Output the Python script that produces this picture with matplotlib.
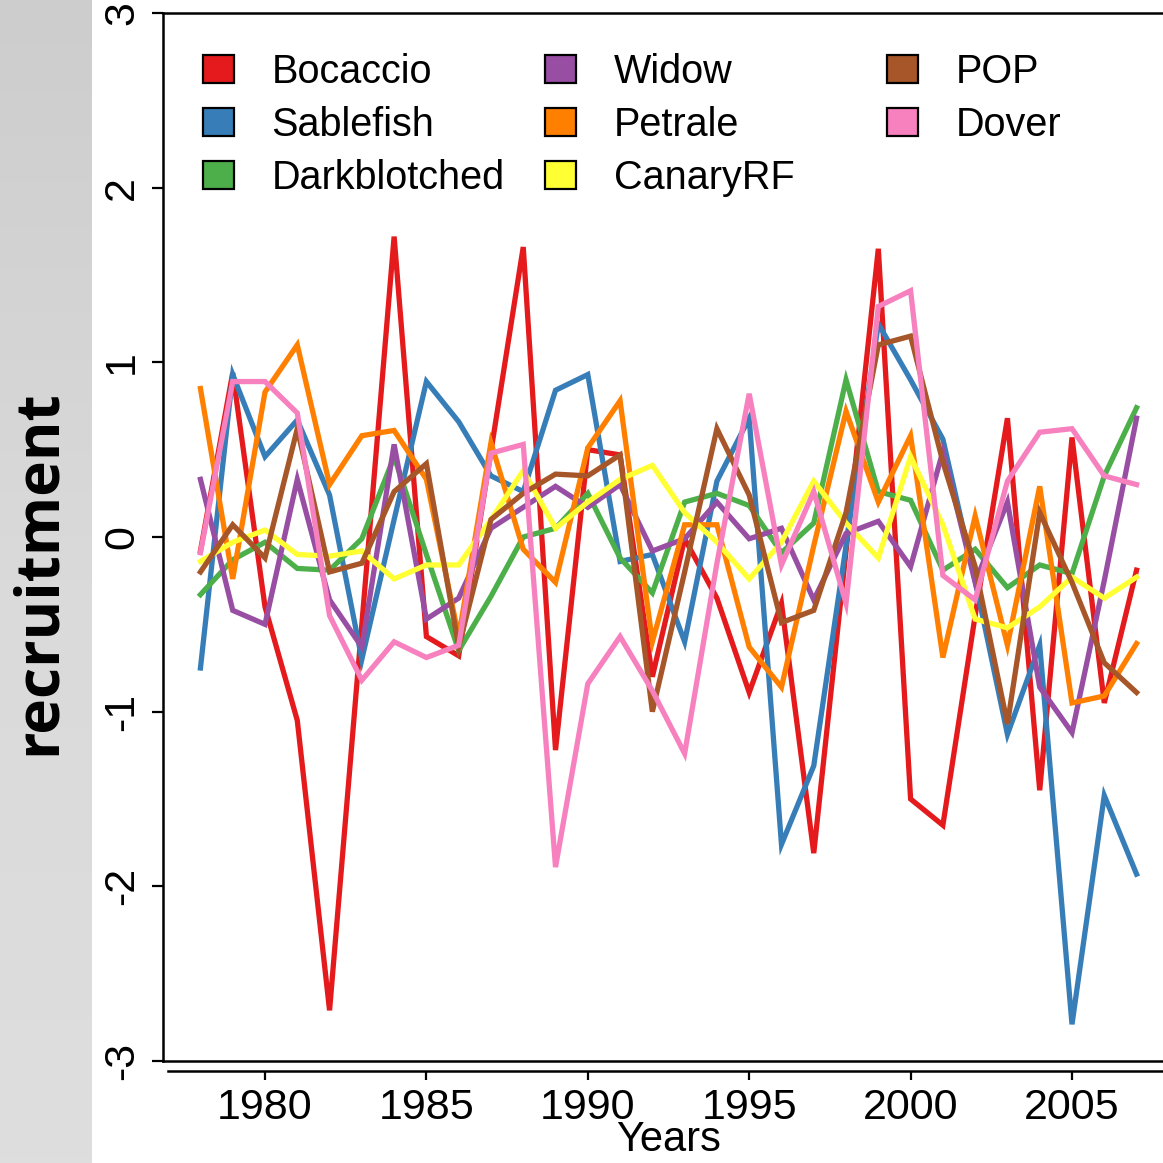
import numpy as np
import matplotlib
matplotlib.use("Agg")
import matplotlib.pyplot as plt
from matplotlib.patches import Patch

plt.rcParams['font.family'] = ['Liberation Sans', 'DejaVu Sans']
plt.rcParams['axes.unicode_minus'] = False

### recruitment deviations, one value per year
years = list(range(1978, 2008))

bocaccio = [-0.08, 0.94, -0.40, -1.05, -2.71, -0.50, 1.72, -0.57, -0.68, 0.49,
            1.66, -1.22, 0.50, 0.47, -0.80, -0.01, -0.35, -0.89, -0.38, -1.81,
            -0.08, 1.65, -1.50, -1.65, -0.45, 0.68, -1.45, 0.57, -0.95, -0.19]
sablefish = [-0.75, 0.93, 0.46, 0.67, 0.24, -0.70, 0.10, 0.89, 0.66, 0.35,
             0.26, 0.84, 0.93, -0.14, -0.10, -0.60, 0.32, 0.68, -1.76, -1.31,
             -0.05, 1.22, 0.90, 0.56, -0.25, -1.13, -0.62, -2.79, -1.48, -1.93]
darkblotched = [-0.33, -0.13, -0.03, -0.18, -0.19, -0.01, 0.46, -0.10, -0.65, -0.34,
                0.00, 0.05, 0.25, -0.12, -0.32, 0.20, 0.25, 0.18, -0.09, 0.08,
                0.90, 0.26, 0.21, -0.19, -0.07, -0.29, -0.16, -0.21, 0.35, 0.74]
widow = [0.33, -0.42, -0.50, 0.33, -0.36, -0.63, 0.53, -0.47, -0.35, 0.05,
         0.17, 0.29, 0.17, 0.30, -0.08, -0.01, 0.20, -0.01, 0.05, -0.36,
         0.02, 0.09, -0.17, 0.49, -0.26, 0.20, -0.86, -1.12, -0.25, 0.68]
petrale = [0.85, -0.24, 0.83, 1.10, 0.30, 0.58, 0.61, 0.33, -0.57, 0.54,
           -0.07, -0.26, 0.51, 0.78, -0.60, 0.07, 0.07, -0.63, -0.86, -0.05,
           0.72, 0.20, 0.58, -0.69, 0.12, -0.62, 0.29, -0.95, -0.91, -0.61]
canary = [-0.14, -0.03, 0.04, -0.10, -0.11, -0.08, -0.24, -0.16, -0.16, 0.10,
          0.38, 0.05, 0.20, 0.33, 0.41, 0.14, -0.03, -0.24, -0.03, 0.32,
          0.08, -0.12, 0.46, 0.07, -0.47, -0.52, -0.40, -0.23, -0.35, -0.23]
pop = [-0.20, 0.07, -0.12, 0.62, -0.20, -0.15, 0.26, 0.42, -0.63, 0.10,
       0.25, 0.36, 0.35, 0.47, -1.00, -0.20, 0.62, 0.24, -0.49, -0.42,
       0.14, 1.10, 1.15, 0.43, -0.17, -1.07, 0.14, -0.26, -0.72, -0.89]
dover = [-0.09, 0.89, 0.89, 0.71, -0.45, -0.82, -0.60, -0.69, -0.62, 0.48,
         0.53, -1.89, -0.84, -0.57, -0.88, -1.24, -0.15, 0.82, -0.16, 0.26,
         -0.38, 1.32, 1.41, -0.22, -0.36, 0.32, 0.60, 0.62, 0.35, 0.30]

names = ["Bocaccio", "Sablefish", "Darkblotched", "Widow", "Petrale", "CanaryRF", "POP", "Dover"]
series = [bocaccio, sablefish, darkblotched, widow, petrale, canary, pop, dover]
# RColorBrewer Set1
colors = ["#E41A1C", "#377EB8", "#4DAF4A", "#984EA3", "#FF7F00", "#FFFF33", "#A65628", "#F781BF"]

xticks = [1980, 1985, 1990, 1995, 2000, 2005]
yticks = [-3, -2, -1, 0, 1, 2, 3]

W = 1163.0
fig = plt.figure(figsize=(11.63, 11.63), dpi=100)

### grey slide strip on the left
bg = fig.add_axes([0, 0, 92 / W, 1])
grad = np.linspace(0, 1, 256).reshape(-1, 1)
bg.imshow(grad, aspect='auto', cmap=matplotlib.colors.LinearSegmentedColormap.from_list(
    "g", ["#cdcdcd", "#dadada", "#dedede"]), extent=[0, 1, 0, 1])
bg.axis("off")

fig.text(39 / W, 1 - 572 / W, "recruitment", rotation=90, fontsize=43.5, fontweight="bold",
         family="Open Sans", ha="center", va="center")

### main panel, right edge runs off the figure like the original
ax = fig.add_axes([163 / W, 1 - 1061 / W, 1011 / W, 1048 / W])
for nm, ys, c in zip(names, series, colors):
    ax.plot(years, ys, color=c, lw=3.8, solid_joinstyle="miter", label=nm)

ax.set_xlim(1978 - 29 * 0.04, 2007 + 29 * 0.04)
ax.set_ylim(-3, 3)
ax.set_xticks(xticks)
ax.set_yticks(yticks)

for s in ax.spines.values():
    s.set_linewidth(1.8)
ax.spines["bottom"].set_position(("outward", 7.2))
ax.spines["bottom"].set_bounds(1977.0, 2008.16)
# box bottom (the x axis sits a little below it)
ax.plot([0, 1], [0, 0], transform=ax.transAxes, color="k", lw=1.8, clip_on=False)

ax.tick_params(axis="both", direction="out", width=1.6, labelsize=31, colors="k")
ax.tick_params(axis="x", length=6.5, pad=6)
ax.tick_params(axis="y", length=8, pad=7, labelrotation=90)
for lab in ax.get_yticklabels():
    lab.set_verticalalignment("center")
ax.set_xlabel("Years", fontsize=30, labelpad=-6)

### legend: three equal-width columns like R
handles = [Patch(facecolor=c, edgecolor="k", lw=1.6) for c in colors]
colx = [0.0396, 0.378, 0.716]
for i, x0 in enumerate(colx):
    lg = ax.legend(handles[3 * i:3 * i + 3], names[3 * i:3 * i + 3], loc="upper left",
                   bbox_to_anchor=(x0, 0.962), frameon=False, fontsize=28.5,
                   borderpad=0, borderaxespad=0, handlelength=0.78, handleheight=0.7,
                   handletextpad=0.95, labelspacing=0.38)
    if i < 2:
        ax.add_artist(lg)

fig.savefig("out.png", dpi=100)
